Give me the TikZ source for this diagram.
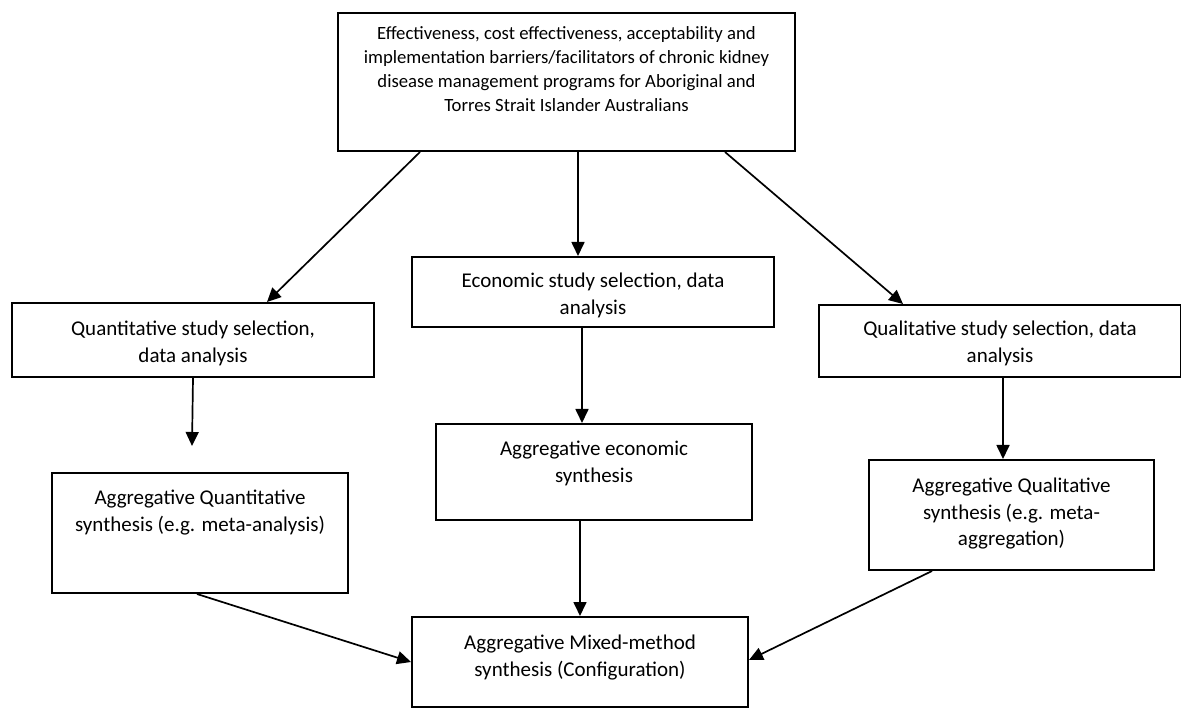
\documentclass[tikz,border=0pt]{standalone}
\usepackage{fontspec}
\setmainfont{Carlito}
\usetikzlibrary{arrows.meta}
\newcommand\boxtext[4]{\parbox[c][#2][t]{#1}{\centering\vspace*{#3}#4\par}}
\begin{document}
\begin{tikzpicture}[x=1pt,y=-1pt,
  box/.style={draw, line width=2pt, inner sep=0pt, anchor=north west},
  arr/.style={line width=1.7pt, -{Triangle[length=14pt,width=13pt]}},
  bigtext/.style={font=\fontsize{21}{26.5}\selectfont},
  toptext/.style={font=\fontsize{18.7}{24}\selectfont}]
\useasboundingbox (0,0) rectangle (1181,708);

\node[box, toptext] (top) at (337,12) {\boxtext{457pt}{138pt}{14pt}{Effectiveness, cost effectiveness, acceptability and\\ implementation barriers/facilitators of chronic kidney\\ disease management programs for Aboriginal and\\ Torres Strait Islander Australians}};

\node[box, bigtext] (quant) at (11,302) {\boxtext{362pt}{74pt}{18pt}{Quantitative study selection,\\ data analysis}};
\node[box, bigtext] (econ) at (411,256) {\boxtext{362pt}{70pt}{16pt}{Economic study selection, data\\ analysis}};
\node[box, bigtext] (qual) at (818,304) {\boxtext{362pt}{72pt}{16pt}{Qualitative study selection, data\\ analysis}};

\node[box, bigtext] (aggquant) at (51,472) {\boxtext{296pt}{120pt}{17pt}{Aggregative Quantitative\\ synthesis (e.g. meta-analysis)}};
\node[box, bigtext] (aggecon) at (435,423) {\boxtext{316pt}{96pt}{17pt}{Aggregative economic\\ synthesis}};
\node[box, bigtext] (aggqual) at (868,459) {\boxtext{285pt}{110pt}{18pt}{Aggregative Qualitative\\ synthesis (e.g. meta-\\ aggregation)}};

\node[box, bigtext] (mixed) at (411,616) {\boxtext{336pt}{90pt}{18pt}{Aggregative Mixed-method\\ synthesis (Configuration)}};

\coordinate (xa) at (578,0);
\coordinate (xb) at (582,0);
\coordinate (xd) at (1003,0);
\coordinate (qtip) at (192,446);

\draw[arr] ([xshift=83pt]top.south west) -- ([xshift=256pt]quant.north west);
\draw[arr] (top.south -| xa) -- (econ.north -| xa);
\draw[arr] ([xshift=388pt]top.south west) -- ([xshift=85pt]qual.north west);

\draw[arr] (quant.south) -- (qtip);
\draw[arr] (econ.south -| xb) -- (aggecon.north -| xb);
\draw[arr] (qual.south -| xd) -- (aggqual.north -| xd);

\draw[arr] ([xshift=146pt]aggquant.south west) -- ([yshift=-46pt]mixed.north west);
\draw[arr] (aggecon.south -| mixed.north) -- (mixed.north);
\draw[arr] ([xshift=64pt]aggqual.south west) -- ([yshift=-44pt]mixed.north east);
\end{tikzpicture}
\end{document}
